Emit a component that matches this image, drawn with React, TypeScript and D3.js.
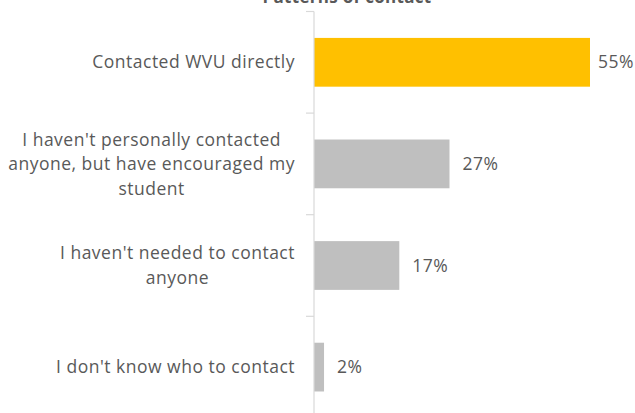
import React, { useEffect, useRef } from "react";
import * as d3 from "d3";

// chart data
const categories = [
  ["Contacted WVU directly"],
  ["I haven't personally contacted", "anyone, but have encouraged my", "student"],
  ["I haven't needed to contact", "anyone"],
  ["I don't know who to contact"],
];
const values = [55, 27, 17, 2];
const barColors = ["#FFC000", "#BFBFBF", "#BFBFBF", "#BFBFBF"];
const title = "Patterns of contact";

const W = 635;
const H = 413;

export default function App() {
  const ref = useRef<SVGSVGElement>(null);

  useEffect(() => {
    const svg = d3.select(ref.current);
    svg.selectAll("*").remove();

    const font = "'Open Sans', Lato, sans-serif";
    const textColor = "#595959";
    const fontSize = 17.5;
    const spacing = 0.5;
    const axisX = 314;

    const x = d3.scaleLinear().domain([0, 55]).range([axisX, 590]);
    const y = d3
      .scaleBand<number>()
      .domain(d3.range(values.length))
      .range([11.5, 11.5 + 101.6 * values.length])
      .paddingInner(0.52)
      .paddingOuter(0.26);

    const step = y.step();
    const bandTop = (i: number) => 11.5 + i * step;

    // title (mostly cut off at the top, as in the source)
    svg
      .append("text")
      .attr("x", 347)
      .attr("y", 3)
      .attr("text-anchor", "middle")
      .attr("font-family", font)
      .attr("font-weight", "bold")
      .attr("font-size", 17)
      .attr("letter-spacing", 0.3)
      .attr("fill", textColor)
      .text(title);

    // bars
    svg
      .selectAll(".bar")
      .data(values)
      .enter()
      .append("rect")
      .attr("class", "bar")
      .attr("x", x(0))
      .attr("y", (d, i) => y(i)!)
      .attr("width", (d) => x(d) - x(0))
      .attr("height", y.bandwidth())
      .attr("fill", (d, i) => barColors[i]);

    // axis line + ticks at band edges
    svg
      .append("line")
      .attr("x1", axisX)
      .attr("x2", axisX)
      .attr("y1", bandTop(0))
      .attr("y2", bandTop(values.length))
      .attr("stroke", "#D9D9D9")
      .attr("stroke-width", 1.2);

    svg
      .selectAll(".tick")
      .data(d3.range(values.length + 1))
      .enter()
      .append("line")
      .attr("class", "tick")
      .attr("x1", axisX - 8)
      .attr("x2", axisX)
      .attr("y1", (d) => bandTop(d))
      .attr("y2", (d) => bandTop(d))
      .attr("stroke", "#D9D9D9")
      .attr("stroke-width", 1.2);

    // category labels: block right-aligned near the axis, lines centred in the block
    const lineH = 24.5;
    const labelRight = 295;
    categories.forEach((lines, i) => {
      const cy = y(i)! + y.bandwidth() / 2;
      const g = svg.append("g");
      const texts = lines.map((ln, j) =>
        g
          .append("text")
          .attr("y", cy + (j - (lines.length - 1) / 2) * lineH)
          .attr("dy", "0.35em")
          .attr("text-anchor", "middle")
          .attr("font-family", font)
          .attr("font-size", fontSize)
          .attr("letter-spacing", spacing)
          .attr("fill", textColor)
          .text(ln)
      );
      const maxW = d3.max(texts, (t) => (t.node() as SVGTextElement).getComputedTextLength()) || 0;
      texts.forEach((t) => t.attr("x", labelRight - maxW / 2));
    });

    // value labels
    values.forEach((v, i) => {
      const t = svg
        .append("text")
        .attr("y", y(i)! + y.bandwidth() / 2)
        .attr("dy", "0.35em")
        .attr("font-family", font)
        .attr("font-size", fontSize)
        .attr("letter-spacing", spacing)
        .attr("fill", textColor)
        .text(`${v}%`);
      const tw = (t.node() as SVGTextElement).getComputedTextLength();
      t.attr("x", Math.min(x(v) + 13, W - 1 - tw));
    });
  }, []);

  return (
    <svg
      ref={ref}
      width={W}
      height={H}
      style={{ position: "absolute", left: 0, top: 0, background: "#fff" }}
    />
  );
}
